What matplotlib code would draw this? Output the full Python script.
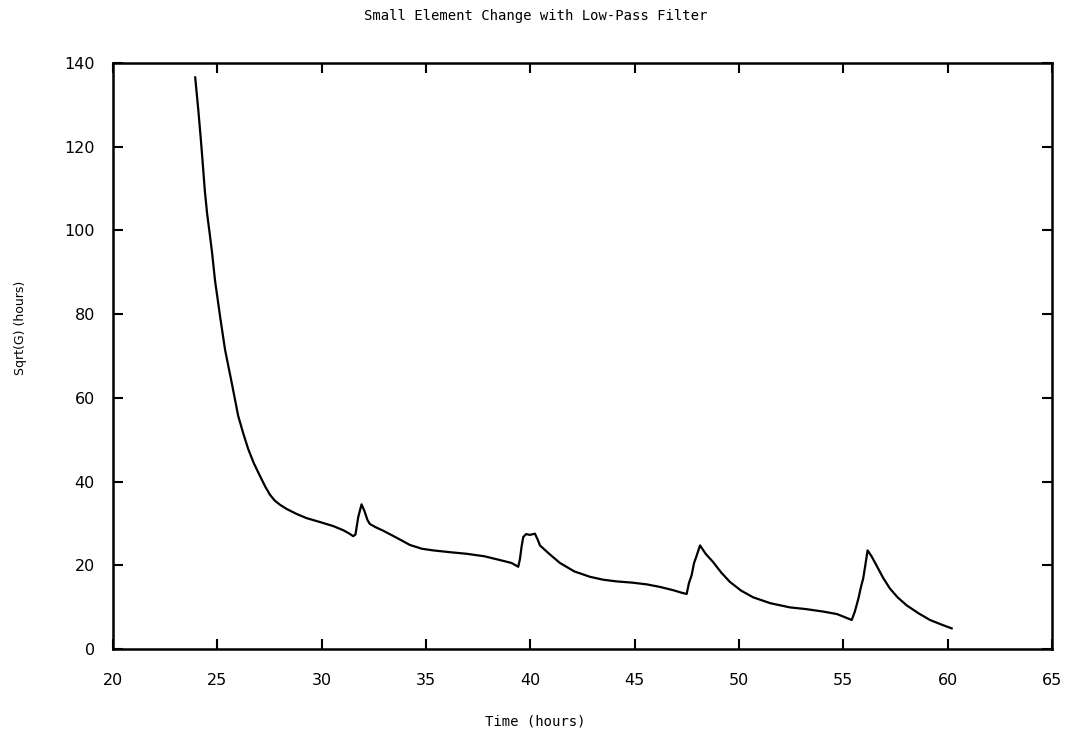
import matplotlib
matplotlib.use("Agg")
import matplotlib.pyplot as plt
import numpy as np

time_h = [23.94, 24.09, 24.20, 24.29, 24.40, 24.51, 24.64, 24.74, 24.89, 25.13,
          25.37, 25.69, 26.00, 26.25, 26.48, 26.75, 27.04, 27.30, 27.52, 27.75,
          28.00, 28.32, 28.80, 29.28, 29.90, 30.56, 31.04, 31.30, 31.51, 31.62,
          31.75, 31.91, 32.05, 32.20, 32.31, 32.60, 32.95, 33.60, 34.23, 34.80,
          35.35, 36.10, 36.94, 37.80, 38.54, 39.10, 39.42, 39.50, 39.58, 39.66,
          39.80, 39.98, 40.22, 40.35, 40.46, 40.90, 41.42, 42.10, 42.86, 43.50,
          44.14, 44.90, 45.57, 46.20, 46.85, 47.25, 47.49, 47.60, 47.73, 47.84,
          47.98, 48.13, 48.40, 48.76, 49.15, 49.56, 50.10, 50.68, 51.50, 52.44,
          53.20, 54.04, 54.70, 55.10, 55.40, 55.55, 55.72, 55.85, 55.95, 56.05,
          56.16, 56.35, 56.59, 56.90, 57.23, 57.60, 58.03, 58.60, 59.15, 59.70,
          60.19]
sqrt_g = [136.5, 128.6, 122.3, 116.7, 109.5, 104.0, 99.0, 95.0, 88.0, 79.5,
          71.5, 63.6, 55.7, 51.4, 47.8, 44.4, 41.4, 38.8, 36.9, 35.5,
          34.5, 33.5, 32.3, 31.3, 30.4, 29.4, 28.4, 27.7, 27.0, 27.4,
          31.5, 34.6, 33.0, 30.8, 29.9, 29.1, 28.3, 26.6, 24.9, 24.0,
          23.6, 23.2, 22.8, 22.2, 21.3, 20.6, 19.7, 21.5, 24.5, 26.8,
          27.5, 27.3, 27.6, 26.2, 24.8, 22.8, 20.6, 18.6, 17.3, 16.6,
          16.2, 15.9, 15.5, 14.9, 14.1, 13.5, 13.2, 15.8, 17.7, 20.5,
          22.5, 24.8, 22.8, 20.8, 18.3, 16.1, 14.0, 12.4, 11.0, 10.0,
          9.6, 9.0, 8.4, 7.6, 7.0, 9.0, 12.1, 15.0, 16.9, 20.0,
          23.6, 22.2, 20.0, 17.1, 14.5, 12.4, 10.5, 8.6, 7.0, 5.9,
          5.0]

x_ticks = [20, 25, 30, 35, 40, 45, 50, 55, 60, 65]
y_ticks = [0, 20, 40, 60, 80, 100, 120, 140]

fig = plt.figure(figsize=(10.71, 7.38), dpi=100)
ax = fig.add_axes([0.1055, 0.1202, 0.8768, 0.7948])

ax.plot(time_h, sqrt_g, color="black", linewidth=1.6)

ax.set_xlim(20, 65)
ax.set_ylim(0, 140)
ax.set_xticks(x_ticks)
ax.set_yticks(y_ticks)
ax.tick_params(direction="in", length=7, width=1.5, top=True, right=True,
               labelsize=11.5)
ax.tick_params(axis="x", pad=17)
ax.tick_params(axis="y", pad=13)
for sp in ax.spines.values():
    sp.set_linewidth(1.8)

mono = "DejaVu Sans Mono"
fig.text(0.5, 0.978, "Small Element Change with Low-Pass Filter", ha="center",
         va="center", fontsize=10, family=mono)
fig.text(0.5, 0.022, "Time (hours)", ha="center", va="center", fontsize=10,
         family=mono)
fig.text(0.019, 0.556, "Sqrt(G) (hours)", ha="center", va="center", fontsize=9,
         family="DejaVu Sans", rotation=90)

fig.savefig("out.png", dpi=100)
